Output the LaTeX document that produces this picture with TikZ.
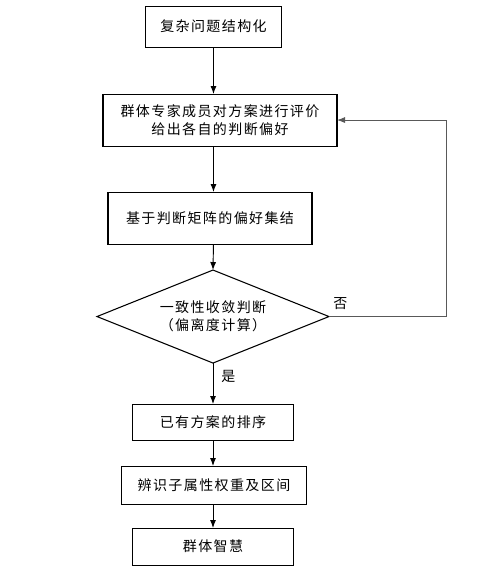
\documentclass[tikz,border=0pt]{standalone}
\usepackage{fontspec}
\newfontfamily\cjk[LetterSpace=10]{Noto Sans CJK SC}
\usetikzlibrary{positioning,shapes.geometric,arrows.meta}

\begin{document}
\begin{tikzpicture}[
  font=\cjk\fontsize{10.5pt}{13.5pt}\selectfont,
  node distance=19.5pt,
  every node/.style={align=center},
  stepbox/.style={draw, line width=0.8pt, inner sep=2pt, outer sep=0pt},
  decide/.style={draw, diamond, aspect=2.5, line width=0.8pt, inner sep=1pt, outer sep=0pt, minimum width=174pt, minimum height=69.75pt},
  tag/.style={inner sep=1pt},
  flow/.style={-{Latex[length=6pt,width=4.5pt]}, line width=0.7pt},
  back/.style={-{Latex[length=6pt,width=4.5pt]}, line width=0.6pt, black!65},
]
\useasboundingbox (0,0) rectangle (372pt,-428.25pt);
% main column
\node[stepbox, minimum width=102pt, minimum height=30.75pt] (struct) at (160.1pt,-19.9pt) {复杂问题结构化};
\node[stepbox, below=35.25pt of struct, xshift=4.9pt, minimum width=175.5pt, minimum height=39pt] (eval)
  {群体专家成员对方案进行评价\\给出各自的判断偏好};
\node[stepbox, below=34.5pt of eval, xshift=-7.5pt, minimum width=153pt, minimum height=39pt] (aggr) {基于判断矩阵的偏好集结};
% consistency check
\node[decide, below=19.5pt of aggr, xshift=2.25pt] (check) {一致性收敛判断\\（偏离度计算）};
% results
\node[stepbox, below=30.75pt of check, minimum width=120.75pt, minimum height=27pt] (rank) {已有方案的排序};
\node[stepbox, below=19.5pt of rank, xshift=0.75pt, minimum width=138.75pt, minimum height=28.5pt] (ident) {辨识子属性权重及区间};
\node[stepbox, below=18pt of ident, xshift=-0.75pt, minimum width=120.75pt, minimum height=27.75pt] (wisdom) {群体智慧};
% flow
\draw[flow] (struct) -- (struct |- eval.north);
\draw[flow] (struct |- eval.south) -- (struct |- aggr.north);
\draw[flow] (struct |- aggr.south) -- (check.north);
\draw[flow] (check.south) -- (rank.north);
\draw[flow] (check.south |- rank.south) -- (check.south |- ident.north);
\draw[flow] (check.south |- ident.south) -- (check.south |- wisdom.north);
% feedback loop
\coordinate (loop) at (334.5pt,0 |- check.east);
\draw[back] (check.east) -- (loop) |- (eval.east);
% branch labels
\node[tag, anchor=south west, xshift=2pt, yshift=4pt] (no) at (check.east) {否};
\node[tag, anchor=north west, xshift=5pt, yshift=-4pt] (yes) at (check.south) {是};
\end{tikzpicture}
\end{document}
